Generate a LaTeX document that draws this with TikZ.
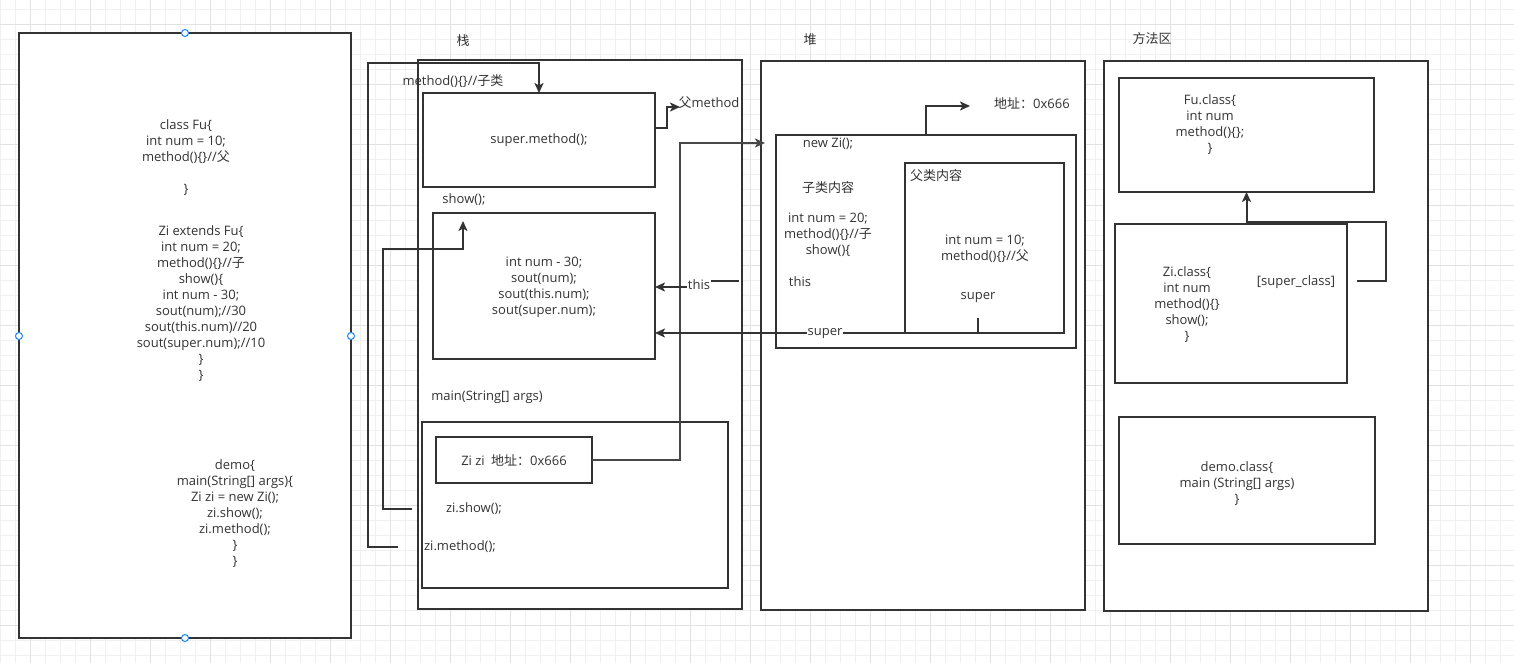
\documentclass[tikz,border=0pt]{standalone}
\usepackage{fontspec}
\setmainfont{Open Sans}
\newfontfamily\cjk{Noto Sans CJK SC}
\newcommand{\zh}[1]{{\cjk #1}}
\usetikzlibrary{arrows.meta,calc}
\definecolor{ink}{HTML}{333333}
\definecolor{txt}{HTML}{333333}
\definecolor{gridminor}{HTML}{F0F0F0}
\definecolor{gridmajor}{HTML}{E2E2E2}
\definecolor{handleblue}{HTML}{1A84FF}
\begin{document}
\begin{tikzpicture}[x=1pt,y=-1pt,
  box/.style={draw=ink,line width=2pt,fill=white,inner sep=0pt,outer sep=0pt,anchor=north west},
  lbl/.style={text=txt,font=\fontsize{13}{16}\selectfont,align=center,inner sep=0pt},
  edge/.style={draw=ink,line width=2pt},
  thinedge/.style={draw=ink!90,line width=1.6pt},
  arr/.style={-{Stealth[length=10pt,width=9pt,inset=2.5pt]}},
  onlbl/.style={lbl,fill=white,inner xsep=1pt,inner ysep=1pt},
  handle/.style={circle,draw=handleblue,fill=white,line width=1pt,minimum size=7pt,inner sep=0pt}
]
\useasboundingbox (0,0) rectangle (1514,663);
\fill[white] (0,0) rectangle (1514,663);
% grid
\foreach \x in {0,15,...,1500} \draw[gridminor,line width=1pt] (\x,0) -- (\x,663);
\foreach \y in {10,25,...,655} \draw[gridminor,line width=1pt] (0,\y) -- (1514,\y);
\foreach \x in {30,90,...,1490} \draw[gridmajor,line width=1pt] (\x,0) -- (\x,663);
\foreach \y in {25,85,...,625} \draw[gridmajor,line width=1pt] (0,\y) -- (1514,\y);

% ---------- left code box ----------
\node[box,minimum width=332pt,minimum height=605pt] (code) at (19,33) {};
\node[lbl] (t1) at (186,158) {class Fu\{\\ int num = 10;\\ method()\{\}//\zh{父}\\[16pt] \}};
\node[lbl] (t2) at (201,304) {Zi extends Fu\{\\ int num = 20;\\ method()\{\}//\zh{子}\\ show()\{\\ int num - 30;\\ sout(num);//30\\ sout(this.num)//20\\ sout(super.num);//10\\ \}\\ \}};
\node[lbl] (t3) at (235,514) {demo\{\\ main(String[] args)\{\\ Zi zi = new Zi();\\ zi.show();\\ zi.method();\\ \}\\ \}};
\node[handle] (h1) at (185,33) {};
\node[handle] (h2) at (19,336) {};
\node[handle] (h3) at (351,336) {};
\node[handle] (h4) at (185,638) {};

% ---------- stack ----------
\node[lbl] (stacklbl) at (463,41) {\zh{栈}};
\node[box,minimum width=324pt,minimum height=549pt] (stack) at (418,60) {};
\node[box,minimum width=232pt,minimum height=94pt] (supm) at (423,93) {};
\node[lbl] at (supm.center) {super.method();};
\node[lbl] (msub) at (453,81) {method()\{\}//\zh{子类}};
\node[lbl] (fum) at (709,103) {\zh{父}method};
\node[lbl] (showlbl) at (464,200) {show();};
\node[box,minimum width=222pt,minimum height=146pt] (showb) at (433,213) {};
\node[lbl] at (544,287) {int num - 30;\\ sout(num);\\ sout(this.num);\\ sout(super.num);};
\node[lbl] (mainlbl) at (487,397) {main(String[] args)};
\node[box,minimum width=306pt,minimum height=166pt] (mainb) at (422,422) {};
\node[box,minimum width=156pt,minimum height=46pt] (zizi) at (436,437) {};
\node[lbl] at (zizi.center) {Zi zi\enspace\zh{地址：}0x666};
\node[lbl] (zishow) at (474,509) {zi.show();};
\node[lbl] (zimethod) at (460,547) {zi.method();};

% ---------- heap ----------
\node[lbl] (heaplbl) at (810,40) {\zh{堆}};
\node[box,minimum width=324pt,minimum height=549pt] (heap) at (761,61) {};
\node[box,minimum width=300pt,minimum height=213pt] (newzi) at (776,135) {};
\node[box,minimum width=159pt,minimum height=170pt] (fu) at (905,163) {};
\node[lbl] at (828,144) {new Zi();};
\node[lbl] at (828,188) {\zh{子类内容}};
\node[lbl] at (828,235) {int num = 20;\\ method()\{\}//\zh{子}\\ show()\{};
\node[lbl] (thisin) at (800,282) {this};
\node[lbl] at (936,176) {\zh{父类内容}};
\node[lbl] at (985,249) {int num = 10;\\ method()\{\}//\zh{父}};
\node[lbl] (superin) at (978,298) {super};
\node[lbl] (addr) at (1032,103) {\zh{地址：}0x666};

% ---------- method area ----------
\node[lbl] (malbl) at (1152,39) {\zh{方法区}};
\node[box,minimum width=324pt,minimum height=550pt] (ma) at (1104,61) {};
\node[box,minimum width=255pt,minimum height=114pt] (fuc) at (1119,78) {};
\node[lbl] at (1210,125) {Fu.class\{\\ int num\\ method()\{\};\\ \}};
\node[box,minimum width=232pt,minimum height=159pt] (zic) at (1115,224) {};
\node[lbl] at (1187,305) {Zi.class\{\\ int num\\ method()\{\}\\ show();\\ \}};
\node[lbl] (scls) at (1296,282) {[super\_class]};
\node[box,minimum width=256pt,minimum height=127pt] (democ) at (1119,417) {};
\node[lbl] at (1237,484) {demo.class\{\\ main (String[] args)\\ \}};

% ---------- connectors ----------
\coordinate (zmEnd) at (398,547);
\coordinate (zsEnd) at (412,509);
\coordinate (showTip) at (463,221);
\coordinate (thisStart) at (739,281);
\coordinate (superStart) at (978,318);
\coordinate (heapTip) at (765,143);
\coordinate (addrTip) at (970,106);
\coordinate (fumTip) at (680,107);
\coordinate (scStart) at (1357,281);

% zi.method() -> method(){} (sub)
\draw[edge,arr] (zmEnd) -| (368,63) -| (supm.north);
% zi.show() -> show()
\draw[edge,arr] (zsEnd) -| (383,249) -| (showTip);
% super.method() -> parent method
\draw[edge,arr] (supm.east |- {(0,128)}) -| (667,107) -- (fumTip);
% Zi zi -> new Zi()
\draw[thinedge,arr] (zizi.east) -| (680,143) -- (heapTip);
% this
\draw[edge,arr] (thisStart) -- (700,281) -- (700,287) -- (showb.east |- {(0,287)});
\node[onlbl] at (699,285) {this};
% super
\draw[edge,arr] (superStart) -- (978,333) -- (showb.east |- {(0,333)});
\node[onlbl] at (825,334) {super};
% new Zi -> address
\draw[edge,arr] (newzi.north) |- (addrTip);
% Zi.class -> Fu.class
\draw[edge,arr] (scStart) -| (1386,222) -| (fuc.south);
\end{tikzpicture}
\end{document}
